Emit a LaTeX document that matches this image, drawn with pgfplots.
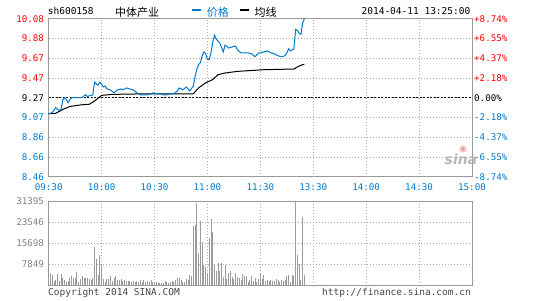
\documentclass[border=0pt]{standalone}
\usepackage{pgfplots}
\pgfplotsset{compat=1.18}
\usepackage{fontspec}
\setmainfont{DejaVu Sans Mono}
\newfontfamily\cjk{Noto Sans CJK SC}
\newfontfamily\logofont{DejaVu Sans}
\definecolor{sblue}{RGB}{0,122,204}
\definecolor{sred}{RGB}{255,0,0}
\definecolor{fgray}{RGB}{153,153,153}
\definecolor{ggray}{RGB}{170,170,170}
\definecolor{vgray}{RGB}{155,155,155}
\definecolor{tgray}{RGB}{130,130,130}
\definecolor{cgray}{RGB}{70,70,70}
\begin{document}
\begin{tikzpicture}[x=1pt,y=1pt]
\pgfplotsset{
  common/.style={scale only axis, width=423.3pt, anchor=south west,
    xmin=0, xmax=240, xtick={0,30,...,240},
    axis line style={fgray, line width=1pt},
    major tick length=0pt,
    grid=major,
    major grid style={ggray, line width=0.7pt, dash pattern=on 0.8pt off 2.2pt},
    tick label style={font=\fontsize{9.2}{10}\selectfont},
    yticklabel style={anchor=east, inner sep=0pt, xshift=-4.5pt},
  }
}
% ---------------- price panel ----------------
\begin{axis}[common, at={(48.7pt,123.3pt)}, height=158pt,
  ymin=8.46, ymax=10.08,
  ytick={8.46,8.6625,8.865,9.0675,9.27,9.4725,9.675,9.8775,10.08},
  yticklabels={\textcolor{sblue}{8.46},\textcolor{sblue}{8.66},\textcolor{sblue}{8.86},\textcolor{sblue}{9.07},9.27,\textcolor{sred}{9.47},\textcolor{sred}{9.67},\textcolor{sred}{9.88},\textcolor{sred}{10.08}},
  xticklabels={09:30,10:00,10:30,11:00,11:30,13:30,14:00,14:30,15:00},
  xticklabel style={text=sblue, anchor=center, inner sep=0pt, yshift=-10.5pt},
]
\addplot[black, line width=0.8pt, dash pattern=on 2pt off 1.5pt] coordinates {(0,9.27) (240,9.27)};
\addplot[black, line width=1pt] coordinates {
(0,9.105)(4,9.11)(8,9.15)(12,9.18)(18,9.196)(23,9.203)(26,9.236)(30,9.294)(36,9.304)(45,9.307)(58,9.31)(82,9.31)(85,9.371)(89,9.422)(93,9.456)(96,9.506)(100,9.523)(107,9.54)(122,9.557)(139,9.564)(141,9.585)(144,9.61)(145,9.61)};
\addplot[sblue, line width=1pt] coordinates {
(0,9.11)(1,9.11)(2,9.12)(3,9.14)(4,9.17)(5,9.15)(6,9.14)(7,9.15)(8,9.25)(9,9.27)(10,9.25)(11,9.22)(12,9.25)(13,9.27)(14,9.27)(15,9.27)(17,9.27)(19,9.27)(20,9.29)(21,9.30)(22,9.28)(23,9.29)(24,9.29)(25,9.30)(26,9.43)(27,9.41)(28,9.40)(29,9.43)(30,9.41)(31,9.38)(32,9.39)(33,9.36)(35,9.35)(37,9.32)(39,9.35)(41,9.36)(42,9.35)(44,9.37)(46,9.36)(48,9.35)(50,9.32)(52,9.30)(53,9.30)(56,9.30)(58,9.31)(59,9.32)(61,9.31)(63,9.31)(65,9.30)(67,9.30)(69,9.31)(71,9.31)(73,9.34)(74,9.37)(76,9.35)(78,9.38)(80,9.34)(82,9.39)(83,9.49)(84,9.56)(85,9.61)(86,9.63)(87,9.70)(88,9.74)(89,9.72)(90,9.66)(91,9.66)(92,9.73)(93,9.84)(94,9.91)(95,9.87)(97,9.83)(99,9.74)(100,9.81)(102,9.78)(104,9.79)(106,9.80)(107,9.76)(109,9.73)(111,9.73)(113,9.73)(115,9.72)(117,9.69)(119,9.73)(120,9.73)(122,9.74)(124,9.75)(126,9.73)(128,9.72)(130,9.70)(132,9.69)(134,9.70)(135,9.73)(136,9.77)(137,9.75)(139,9.77)(140,9.97)(141,9.96)(142,9.93)(143,9.92)(144,10.04)(145,10.08)};
\end{axis}
% right-hand percent labels
\begin{axis}[scale only axis, width=423.3pt, height=158pt, at={(48.7pt,123.3pt)}, anchor=south west,
  xmin=0, xmax=240, ymin=8.46, ymax=10.08,
  axis line style={draw=none}, major tick length=0pt, xtick=\empty,
  yticklabel pos=right,
  ytick={8.46,8.6625,8.865,9.0675,9.27,9.4725,9.675,9.8775,10.08},
  yticklabels={\textcolor{sblue}{-8.74\%},\textcolor{sblue}{-6.55\%},\textcolor{sblue}{-4.37\%},\textcolor{sblue}{-2.18\%},0.00\%,\textcolor{sred}{+2.18\%},\textcolor{sred}{+4.37\%},\textcolor{sred}{+6.55\%},\textcolor{sred}{+8.74\%}},
  yticklabel style={anchor=west, inner sep=0pt, xshift=2pt, font=\fontsize{9.2}{10}\selectfont},
]
\addplot[draw=none] coordinates {(0,9.27)};
\end{axis}
% ---------------- volume panel ----------------
\begin{axis}[common, at={(48.7pt,14.7pt)}, height=84pt,
  ymin=0, ymax=31395, scaled y ticks=false,
  ytick={7849,15698,23546,31395},
  yticklabels={7849,15698,23546,31395},
  yticklabel style={text=tgray},
  xticklabels={},
]
\addplot[ycomb, vgray, line width=0.9pt, mark=none] coordinates {
(0,5400)(1,4700)(2,3700)(3,1600)(4,2000)(5,4100)(6,1500)(7,4100)(8,2600)(9,1900)(10,1400)(11,1500)(12,2800)(13,3300)(14,2600)(15,2600)(16,5100)(17,1300)(18,2500)(19,3300)(20,2900)(21,2600)(22,2700)(23,2500)(24,1800)(25,2800)(26,14200)(27,9800)(28,4000)(29,11200)(30,7500)(31,2400)(32,1300)(33,2300)(34,2400)(35,3300)(36,1600)(37,2700)(38,3400)(39,2000)(40,1900)(41,2500)(42,1700)(43,2000)(44,1700)(45,1600)(46,1500)(47,1300)(48,1500)(49,1200)(50,1700)(51,1400)(52,1800)(53,1200)(54,1900)(55,1100)(56,1500)(57,1300)(58,2000)(59,1400)(60,1000)(61,1200)(62,800)(63,1000)(64,900)(65,700)(66,1500)(67,1300)(68,900)(69,1200)(70,1600)(71,1200)(72,2100)(73,2800)(74,2900)(75,2100)(76,1300)(77,1200)(78,2400)(79,1800)(80,3700)(81,3600)(82,22300)(83,22600)(84,30900)(85,12200)(86,24100)(87,16000)(88,7500)(89,7000)(90,4500)(91,17600)(92,24800)(93,20100)(94,7600)(95,5500)(96,8200)(97,5500)(98,8200)(99,3200)(100,7600)(101,2400)(102,4500)(103,5500)(104,3200)(105,2400)(106,4700)(107,3000)(108,2700)(109,2100)(110,4200)(111,3400)(112,3300)(113,1400)(114,1900)(115,3400)(116,1500)(117,2700)(118,1200)(119,2500)(120,4500)(121,2500)(122,3700)(123,1700)(124,2100)(125,1700)(126,1900)(127,1500)(128,1600)(129,2400)(130,1800)(131,1200)(132,2000)(133,1500)(134,1800)(135,3500)(136,3700)(137,1300)(138,3700)(139,3600)(140,31395)(141,11200)(142,7800)(143,2000)(144,25400)(145,3700)};
\end{axis}
% ---------------- header ----------------
\node[anchor=west, inner sep=0pt, font=\fontsize{9.5}{10}\selectfont] at (47.7,288.8) {sh600158};
\node[anchor=west, inner sep=0pt, font=\cjk\fontsize{11}{12}\selectfont] at (115,287.7) {中体产业};
\fill[sblue] (191.7,288.8) rectangle (201,291.3);
\node[anchor=west, inner sep=0pt, text=sblue, font=\cjk\fontsize{11}{12}\selectfont] at (206.7,287.7) {价格};
\fill[black] (240,288.8) rectangle (249.3,291.3);
\node[anchor=west, inner sep=0pt, font=\cjk\fontsize{11}{12}\selectfont] at (254.3,287.7) {均线};
\node[anchor=east, inner sep=0pt, font=\fontsize{9.5}{10}\selectfont] at (470.5,288.8) {2014-04-11 13:25:00};
% ---------------- logo ----------------
\fill[red!25] (463,151) circle (3.6);
\fill[black!35] (463,151) circle (1.3);
\node[inner sep=0pt, text=black!28, font=\logofont\bfseries\itshape\fontsize{14}{14}\selectfont] at (461,140.5) {sina};
% ---------------- footer ----------------
\node[anchor=base west, inner sep=0pt, text=cgray, font=\fontsize{9.5}{10}\selectfont] at (48,5) {Copyright 2014 SINA.COM};
\node[anchor=base east, inner sep=0pt, text=cgray, font=\fontsize{9.5}{10}\selectfont] at (471,5) {http://finance.sina.com.cn};
\pgfresetboundingbox
\path[use as bounding box] (0,0) rectangle (545,300);
\end{tikzpicture}
\end{document}
